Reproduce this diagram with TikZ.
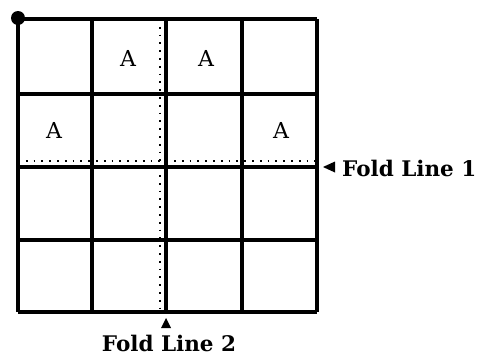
\documentclass[tikz,border=0pt]{standalone}
\usepackage{fontspec}
\setmainfont{DejaVu Serif}
\begin{document}
\begin{tikzpicture}[x=1pt,y=-1pt,
  gridline/.style={line width=3.4pt},
  foldline/.style={line width=1.8pt,dash pattern=on 1.8pt off 6pt},
  letter/.style={font=\fontsize{22}{22}\selectfont},
  foldlabel/.style={font=\bfseries\fontsize{21.5}{21.5}\selectfont,inner sep=0pt},
  tip/.style={fill=black}]
\useasboundingbox (0,0) rectangle (478,356);
% dotted fold lines
\draw[foldline] (160,19) -- (160,312);
\draw[foldline] (18,161) -- (317,161);
% grid
\foreach \x in {18,92,166,242,317} \draw[gridline] (\x,19) -- (\x,312);
\foreach \y in {19,94,167,240,312} \draw[gridline] (18,\y) -- (317,\y);
% corner dot
\fill (18,18) circle (7);
% letters
\node[letter] (a1) at (128,58) {A};
\node[letter] (a2) at (206,58) {A};
\node[letter] (a3) at (54,130) {A};
\node[letter] (a4) at (281,130) {A};
% fold labels
\node[foldlabel,anchor=base west] (f1) at (342,176) {Fold Line 1};
\node[foldlabel,anchor=base] (f2) at (169,351) {Fold Line 2};
\coordinate (t1) at (323,167);
\coordinate (t2) at (166,318);
\fill[tip] (t1) -- ++(12,-5.5) -- ++(0,11) -- cycle;
\fill[tip] (t2) -- ++(5,10) -- ++(-10,0) -- cycle;
\end{tikzpicture}
\end{document}
